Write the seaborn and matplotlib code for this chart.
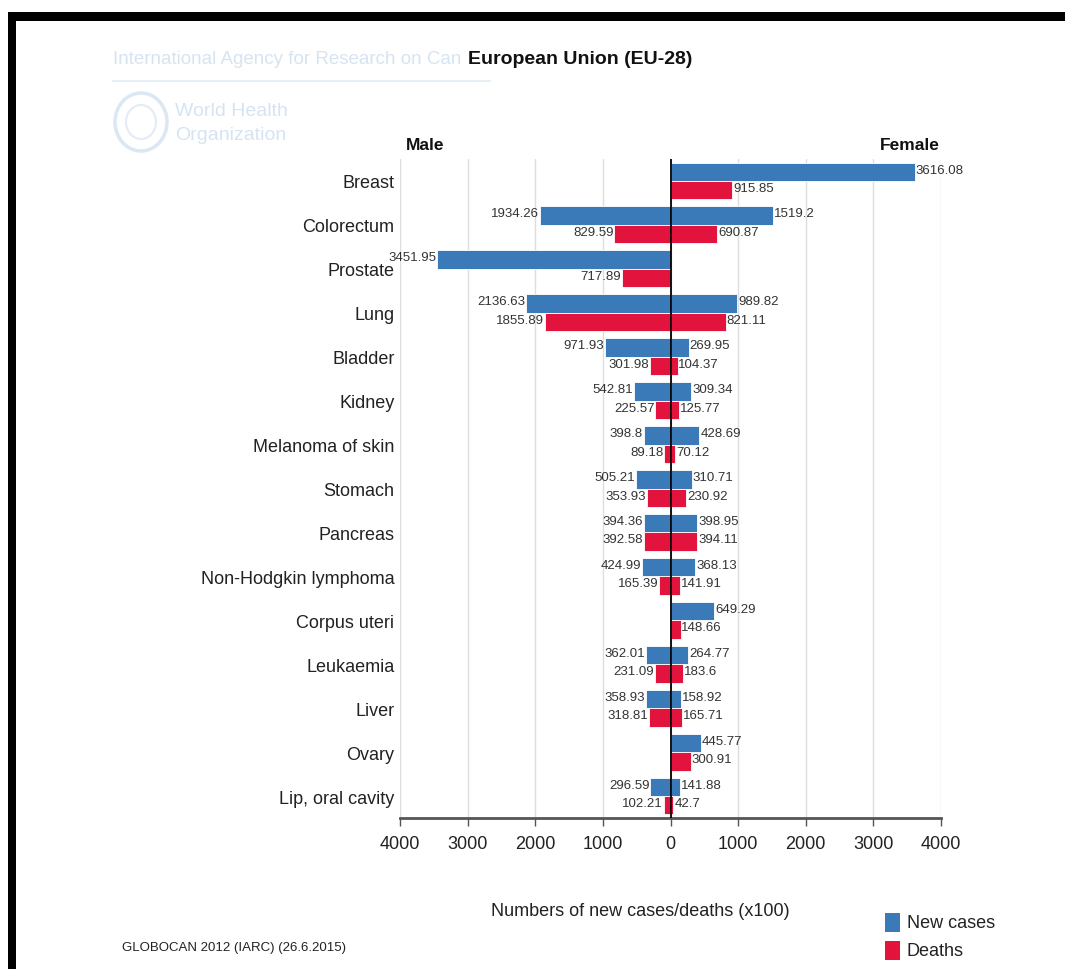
import numpy as np
import pandas as pd
import matplotlib
matplotlib.use("Agg")
import matplotlib.pyplot as plt
import seaborn as sns
from matplotlib.patches import Rectangle, Ellipse

categories = ["Breast", "Colorectum", "Prostate", "Lung", "Bladder", "Kidney",
              "Melanoma of skin", "Stomach", "Pancreas", "Non-Hodgkin lymphoma",
              "Corpus uteri", "Leukaemia", "Liver", "Ovary", "Lip, oral cavity"]
male_new = [np.nan, 1934.26, 3451.95, 2136.63, 971.93, 542.81, 398.8, 505.21,
            394.36, 424.99, np.nan, 362.01, 358.93, np.nan, 296.59]
male_deaths = [np.nan, 829.59, 717.89, 1855.89, 301.98, 225.57, 89.18, 353.93,
               392.58, 165.39, np.nan, 231.09, 318.81, np.nan, 102.21]
female_new = [3616.08, 1519.2, np.nan, 989.82, 269.95, 309.34, 428.69, 310.71,
              398.95, 368.13, 649.29, 264.77, 158.92, 445.77, 141.88]
female_deaths = [915.85, 690.87, np.nan, 821.11, 104.37, 125.77, 70.12, 230.92,
                 394.11, 141.91, 148.66, 183.6, 165.71, 300.91, 42.7]
xticks = [-4000, -3000, -2000, -1000, 0, 1000, 2000, 3000, 4000]
xticklabels = ["4000", "3000", "2000", "1000", "0", "1000", "2000", "3000", "4000"]
kinds = ["New cases", "Deaths"]
colors = {"New cases": "#3b7ab8", "Deaths": "#e2133c"}

sns.set_theme(style="white")
plt.rcParams["font.family"] = ["Liberation Sans", "DejaVu Sans"]

rows = []
for i, c in enumerate(categories):
    rows.append((c, "Male", "New cases", -male_new[i], male_new[i]))
    rows.append((c, "Male", "Deaths", -male_deaths[i], male_deaths[i]))
    rows.append((c, "Female", "New cases", female_new[i], female_new[i]))
    rows.append((c, "Female", "Deaths", female_deaths[i], female_deaths[i]))
df = pd.DataFrame(rows, columns=["category", "sex", "kind", "signed", "value"])

fig = plt.figure(figsize=(10.65, 9.7), dpi=100)
ax = fig.add_axes([400 / 1065, 1 - 819 / 970, 541 / 1065, 659 / 970])

for sex in ["Male", "Female"]:
    sub = df[df["sex"] == sex]
    sns.barplot(data=sub, y="category", x="signed", hue="kind", order=categories,
                hue_order=kinds, palette=colors, orient="h", width=0.84, saturation=1,
                errorbar=None, legend=False, ax=ax, edgecolor="white", linewidth=0.6)

# value labels
for i, c in enumerate(categories):
    for j, (mv, fv) in enumerate([(male_new[i], female_new[i]), (male_deaths[i], female_deaths[i])]):
        yc = i + (-0.21 if j == 0 else 0.21) - 0.05
        if not np.isnan(mv):
            ax.text(-mv - 12, yc, f"{mv:g}", ha="right", va="center", fontsize=9.5, color="#333333")
        if not np.isnan(fv):
            ax.text(fv + 12, yc, f"{fv:g}", ha="left", va="center", fontsize=9.5, color="#333333")

ax.set_xlim(-4000, 4000)
ax.set_ylim(14.5, -0.5)
ax.set_xticks(xticks)
ax.set_xticklabels(xticklabels, fontsize=13, color="#222222")
ax.tick_params(axis="x", direction="out", length=6, width=1, color="#555555", pad=6, bottom=True)
ax.tick_params(axis="y", length=0, labelsize=13, labelcolor="#222222", pad=4)
ax.set_ylabel("")
ax.set_xlabel("")
ax.grid(axis="x", color="#dddddd", linewidth=1)
ax.set_axisbelow(True)
for s in ["top", "right", "left"]:
    ax.spines[s].set_visible(False)
ax.spines["bottom"].set_color("#555555")
ax.spines["bottom"].set_linewidth(2)
ax.axvline(0, color="black", linewidth=1.3, zorder=5)

# headers and texts
fig.text(425 / 1065, 1 - 145 / 970, "Male", fontsize=12.5, fontweight="bold", ha="center", va="center", color="#111111")
fig.text(910 / 1065, 1 - 145 / 970, "Female", fontsize=12.5, fontweight="bold", ha="center", va="center", color="#111111")
fig.text(113 / 1065, 1 - 60 / 970, "International Agency for Research on Can", fontsize=13.5,
         ha="left", va="center", color="#d6e4f2")
fig.add_artist(plt.Line2D([113 / 1065, 490 / 1065], [1 - 82 / 970, 1 - 82 / 970], color="#e6eef6", linewidth=1.5))
fig.add_artist(Ellipse((141 / 1065, 1 - 123 / 970), 52 / 1065, 58 / 970, transform=fig.transFigure,
                       facecolor="none", edgecolor="#dbe7f3", linewidth=2.5))
fig.add_artist(Ellipse((141 / 1065, 1 - 123 / 970), 30 / 1065, 34 / 970, transform=fig.transFigure,
                       facecolor="none", edgecolor="#e3ecf6", linewidth=1.5))
fig.text(175 / 1065, 1 - 112 / 970, "World Health", fontsize=14, ha="left", va="center", color="#d6e4f2")
fig.text(175 / 1065, 1 - 136 / 970, "Organization", fontsize=14, ha="left", va="center", color="#d6e4f2")
fig.text(468 / 1065, 1 - 60 / 970, "European Union (EU-28)", fontsize=14, fontweight="bold",
         ha="left", va="center", color="#111111")
fig.text(640 / 1065, 1 - 912 / 970, "Numbers of new cases/deaths (x100)", fontsize=13,
         ha="center", va="center", color="#222222")
fig.text(122 / 1065, 1 - 948 / 970, "GLOBOCAN 2012 (IARC) (26.6.2015)", fontsize=9.5,
         ha="left", va="center", color="#222222")

# legend
for k, (lab, yy) in enumerate([("New cases", 924), ("Deaths", 952)]):
    fig.add_artist(Rectangle((885 / 1065, 1 - (yy + 9) / 970), 15 / 1065, 19 / 970,
                             transform=fig.transFigure, facecolor=colors[lab], edgecolor="none"))
    fig.text(907 / 1065, 1 - yy / 970, lab, fontsize=13, ha="left", va="center", color="#222222")

# frame
fig.add_artist(Rectangle((8 / 1065, 1 - 22 / 970), (1065 - 8) / 1065, 9 / 970,
                         transform=fig.transFigure, facecolor="black", edgecolor="none"))
fig.add_artist(Rectangle((8 / 1065, 0), 8 / 1065, 1 - 13 / 970,
                         transform=fig.transFigure, facecolor="black", edgecolor="none"))

fig.savefig("out.png", dpi=100, facecolor="white")
